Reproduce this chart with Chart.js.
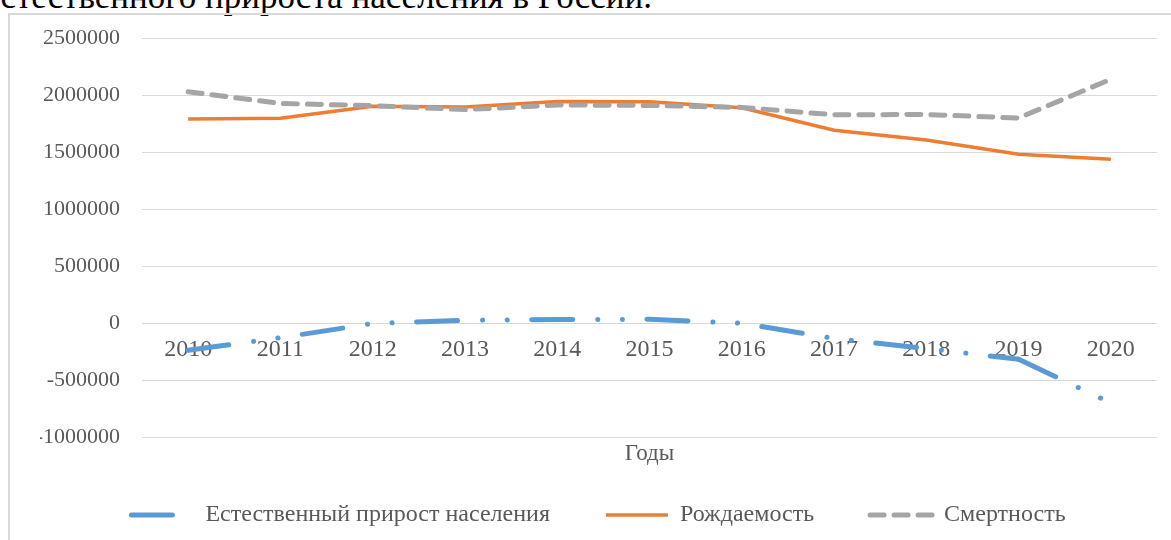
<!DOCTYPE html>
<html>
<head>
<meta charset="utf-8">
<script src="https://cdn.jsdelivr.net/npm/chart.js@4/dist/chart.umd.min.js"></script>
<style>
  body { margin: 0; background: #fff; overflow: hidden; }
  .page { position: relative; width: 1171px; height: 540px; overflow: hidden; }
  .caption {
    position: absolute; right: 519px; top: -21px;
    font: 35px "Liberation Serif", serif; line-height: 35px;
    white-space: nowrap; color: #000;
  }
  .frame {
    position: absolute; left: 8px; top: 13px; width: 1300px; height: 700px;
    border-left: 2px solid #d9d9d9; border-top: 2px solid #d9d9d9;
  }
  #chart { position: absolute; left: 0; top: 0; }
</style>
</head>
<body>
<div class="page">
  <div class="caption">естественного прироста населения в России.</div>
  <div class="frame"></div>
  <canvas id="chart" width="1171" height="540"></canvas>
</div>
<script>
// data
const years = ["2010", "2011", "2012", "2013", "2014", "2015", "2016", "2017", "2018", "2019", "2020"];
const naturalGrowth = [-239568, -129091, -4251, 24013, 30336, 32038, -2286, -135818, -224566, -317233, -702072];
const births = [1788948, 1796629, 1902084, 1895822, 1942683, 1940579, 1888729, 1690307, 1604344, 1481074, 1436514];
const deaths = [2028516, 1925720, 1906335, 1871809, 1912347, 1908541, 1891015, 1826125, 1828910, 1798307, 2138586];
const seriesNames = ["Естественный прирост населения", "Рождаемость", "Смертность"];
const axisTitle = "Годы";

const serif = "'Liberation Serif', 'Times New Roman', serif";
const textColor = "#595959";

const ctx = document.querySelector("#chart").getContext("2d");

new Chart(ctx, {
    type: "line",
    data: {
        labels: years,
        datasets: [
            {
                label: seriesNames[0],
                data: naturalGrowth,
                borderColor: "#5b9bd5",
                backgroundColor: "#5b9bd5",
                borderWidth: 5,
                borderDash: [41, 25, 0.1, 24.5, 0.1, 24.5],
                borderCapStyle: "round",
                // the last segment starts its own dash pattern, like in Excel
                segment: {
                    borderDashOffset: (c) => (c.p0DataIndex === 9 ? 0.001 : 0)
                },
                order: 3,
            },
            {
                label: seriesNames[1],
                data: births,
                borderColor: "#ed7d31",
                backgroundColor: "#ed7d31",
                borderWidth: 3.5,
                order: 2,
            },
            {
                label: seriesNames[2],
                data: deaths,
                borderColor: "#a5a5a5",
                backgroundColor: "#a5a5a5",
                borderWidth: 5,
                borderDash: [14, 10],
                borderCapStyle: "round",
                order: 1,
            },
        ]
    },
    options: {
        responsive: false,
        animation: false,
        elements: {
            point: { radius: 0, hoverRadius: 0 },
            line: { tension: 0 }
        },
        layout: {
            padding: { left: 40, right: 14, top: 38, bottom: 3 }
        },
        plugins: {
            tooltip: { enabled: false },
            legend: {
                position: "bottom",
                labels: {
                    usePointStyle: true,
                    pointStyle: "line",
                    pointStyleWidth: 62,
                    padding: 56,
                    color: textColor,
                    font: { family: serif, size: 24 },
                    generateLabels: (chart) => {
                        const items = Chart.defaults.plugins.legend.labels.generateLabels(chart);
                        items.forEach(item => {
                            const ds = chart.data.datasets[item.datasetIndex];
                            item.lineDash = ds.borderDash || [];
                            item.lineCap = ds.borderCapStyle || "butt";
                            item.lineWidth = ds.borderWidth;
                        });
                        return items;
                    },
                    sort: (a, b) => a.datasetIndex - b.datasetIndex,
                }
            }
        },
        scales: {
            x: {
                offset: true,
                position: { y: 0 },
                grid: { display: false, drawTicks: false },
                border: { display: false },
                ticks: {
                    padding: 12,
                    color: textColor,
                    font: { family: serif, size: 24 },
                    maxRotation: 0,
                    autoSkip: false,
                },
                title: {
                    display: true,
                    text: axisTitle,
                    color: textColor,
                    font: { family: serif, size: 23 },
                    padding: { top: 0, bottom: 5 },
                },
                afterFit: (scale) => { scale.height = 150; }
            },
            // empty strip between plot and legend
            x2: {
                type: "category",
                position: "bottom",
                offset: true,
                grid: { display: false, drawTicks: false },
                border: { display: false },
                ticks: { display: false },
                afterFit: (scale) => { scale.height = 10; }
            },
            y: {
                min: -1000000,
                max: 2500000,
                grid: { color: "#d9d9d9", lineWidth: 1, drawTicks: false },
                border: { display: false },
                ticks: {
                    stepSize: 500000,
                    padding: 22,
                    color: textColor,
                    font: { family: serif, size: 22 },
                    callback: (value) => String(value),
                },
                afterFit: (scale) => { scale.width = 102; }
            }
        }
    }
});
</script>
</body>
</html>
